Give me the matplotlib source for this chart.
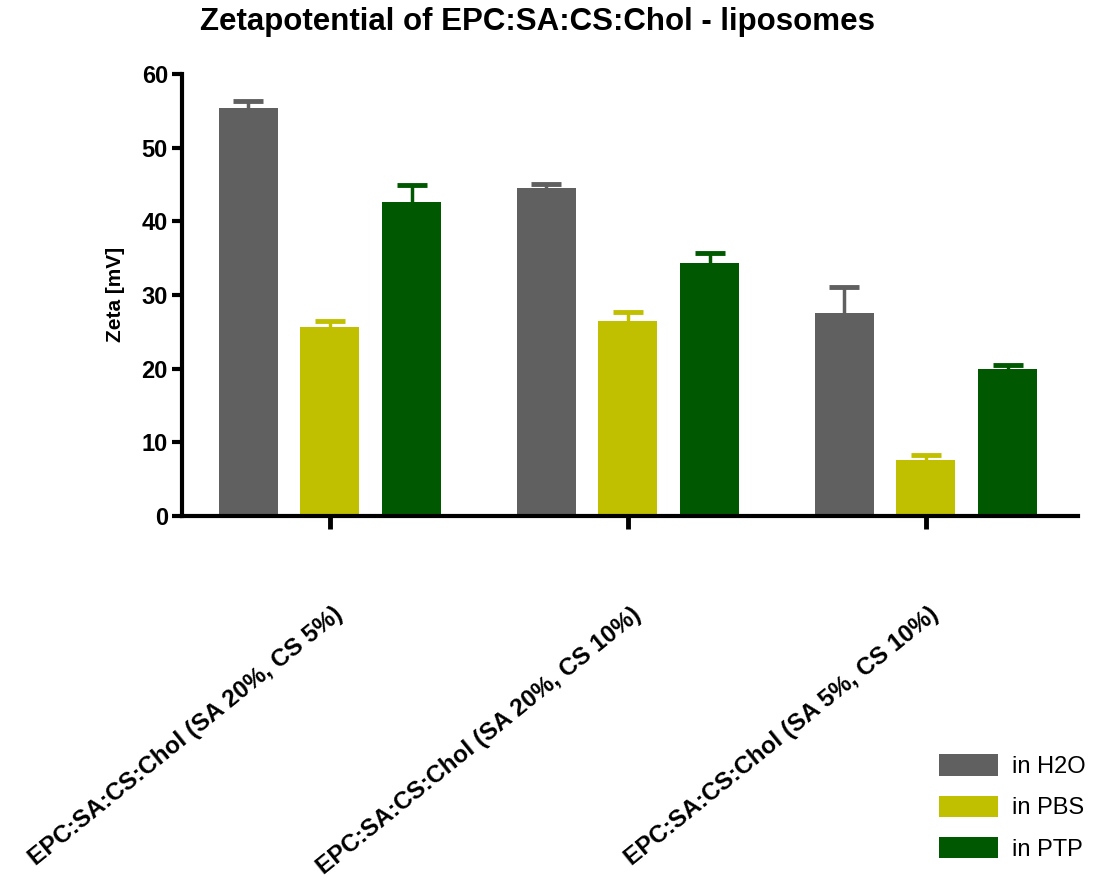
import numpy as np
import matplotlib
matplotlib.use("Agg")
import matplotlib.pyplot as plt
import matplotlib.transforms as mtransforms

plt.rcParams['font.family'] = ['Liberation Sans', 'DejaVu Sans']

groups = ["EPC:SA:CS:Chol (SA 20%, CS 5%)",
          "EPC:SA:CS:Chol (SA 20%, CS 10%)",
          "EPC:SA:CS:Chol (SA 5%, CS 10%)"]
series = ["in H2O", "in PBS", "in PTP"]
h2o = [55.4, 44.5, 27.6]
pbs = [25.7, 26.5, 7.6]
ptp = [42.6, 34.3, 20.0]
h2o_err = [0.9, 0.6, 3.5]
pbs_err = [0.8, 1.2, 0.7]
ptp_err = [2.3, 1.4, 0.5]
colors = ["#606060", "#c0c000", "#005900"]

fig = plt.figure(figsize=(11.09, 8.91), dpi=100)
ax = fig.add_axes([0.164, 0.421, 0.808, 0.496])

x = np.arange(len(groups))
width = 0.198
step = 0.275
values = [h2o, pbs, ptp]
errors = [h2o_err, pbs_err, ptp_err]

for i, (vals, errs, col, name) in enumerate(zip(values, errors, colors, series)):
    pos = x + (i - 1) * step
    ax.bar(pos, vals, width, color=col, label=name, zorder=2)
    eb = ax.errorbar(pos, vals, yerr=[np.zeros(len(errs)), errs], fmt="none",
                     ecolor=col, elinewidth=2.5, capsize=10.5, capthick=3.5,
                     zorder=1)
    # only the upper cap, like the original plot
    eb[1][0].set_visible(False)

ax.set_xlim(-0.497, 2.51)
ax.set_ylim(0, 60)
ax.set_yticks(range(0, 61, 10))
ax.spines["top"].set_visible(False)
ax.spines["right"].set_visible(False)
ax.spines["left"].set_linewidth(3)
ax.spines["bottom"].set_linewidth(3)
ax.tick_params(axis="y", length=7, width=3, labelsize=17, pad=3)
ax.tick_params(axis="x", length=9, width=3.5, pad=60)
for lab in ax.get_yticklabels():
    lab.set_fontweight("bold")

ax.set_xticks(x)
ax.set_xticklabels(groups, rotation=39, ha="right", va="center",
                   rotation_mode="anchor", fontsize=17.5, fontweight="bold")
offset = mtransforms.ScaledTranslation(10 / 100, 0, fig.dpi_scale_trans)
for lab in ax.get_xticklabels():
    lab.set_transform(lab.get_transform() + offset)

ax.set_ylabel("Zeta [mV]", fontsize=15, fontweight="bold", labelpad=12)
fig.text(0.485, 0.975, "Zetapotential of EPC:SA:CS:Chol - liposomes",
         ha="center", va="center", fontsize=22.5, fontweight="bold")

fig.legend(loc="lower right", bbox_to_anchor=(0.998, 0.01), frameon=False,
           fontsize=17, handlelength=2.5, handleheight=1.0,
           labelspacing=0.75, handletextpad=0.6)

fig.savefig("out.png", dpi=100)
